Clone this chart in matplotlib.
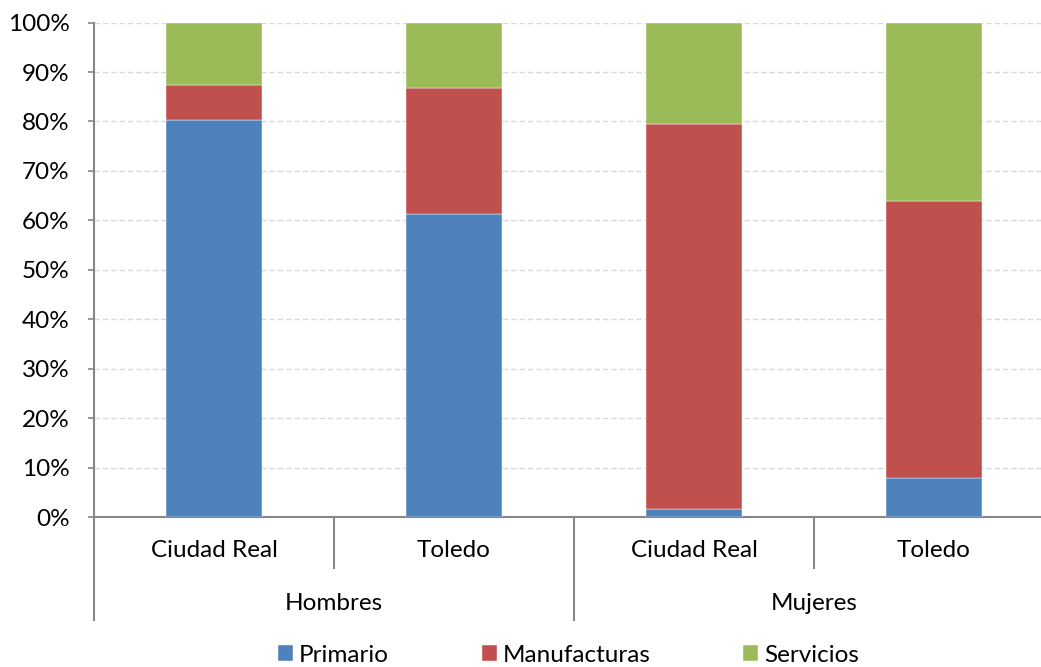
from matplotlib import pyplot as plt
from matplotlib.transforms import blended_transform_factory
import numpy as np

### - Data (shares in %)
provincias = ['Ciudad Real', 'Toledo', 'Ciudad Real', 'Toledo']
grupos = ['Hombres', 'Mujeres']
primario = [80.4, 61.2, 1.7, 7.8]
manufacturas = [7.0, 25.6, 77.7, 56.1]
servicios = [12.6, 13.2, 20.6, 36.1]

series = ['Primario', 'Manufacturas', 'Servicios']
colores = ['#4F81BD', '#C0504D', '#9BBB59']

plt.rcParams['font.family'] = ['Lato', 'DejaVu Sans']
FS = 17.5

W, H = 1041, 667
fig = plt.figure(figsize=(W / 100, H / 100), dpi=100)
# axis runs past the right edge of the picture, like the original
ax = fig.add_axes([94 / W, (H - 517) / H, 960 / W, 494.4 / H])

x = np.arange(len(provincias))
bottom = np.zeros(len(provincias))
for nombre, vals, col in zip(series, [primario, manufacturas, servicios], colores):
    ax.bar(x, vals, width=0.4, bottom=bottom, color=col, edgecolor='white',
           linewidth=0.3, label=nombre, zorder=3)
    bottom += np.array(vals)

ax.set_xlim(-0.5, len(provincias) - 0.5)
ax.set_ylim(0, 100)
ax.set_yticks(np.arange(0, 101, 10))
ax.set_yticklabels([f'{v}%' for v in range(0, 101, 10)])
ax.yaxis.grid(True, linestyle=(0, (4, 2)), color='#d9d9d9', linewidth=1, zorder=0)

for s in ['top', 'right']:
    ax.spines[s].set_visible(False)
for s in ['left', 'bottom']:
    ax.spines[s].set_color('#868686')
    ax.spines[s].set_linewidth(1.5)

ax.tick_params(axis='y', length=4.5, width=1.2, color='#868686', pad=13, labelsize=FS)
ax.set_xticks([])

# two-level category axis drawn by hand
trans = blended_transform_factory(ax.transData, ax.transAxes)
for xi in [0.5, 2.5]:
    ax.plot([xi, xi], [0, -0.103], color='#868686', lw=1.5, transform=trans, clip_on=False)
for xi in [-0.5, 1.5, 3.5]:
    ax.plot([xi, xi], [0, -0.208], color='#868686', lw=1.5, transform=trans, clip_on=False)

for xi, lab in zip(x, provincias):
    ax.text(xi, -0.067, lab, transform=trans, ha='center', va='center', fontsize=FS)
for gi, lab in enumerate(grupos):
    ax.text(gi * 2 + 0.5, -0.174, lab, transform=trans, ha='center', va='center', fontsize=FS)

fig.legend(loc='center', bbox_to_anchor=(568.5 / W, (H - 655) / H), ncol=3, frameon=False,
           fontsize=FS, handlelength=0.62, handleheight=0.62, handletextpad=0.25,
           columnspacing=3.8)

fig.savefig('out.png', dpi=100)
